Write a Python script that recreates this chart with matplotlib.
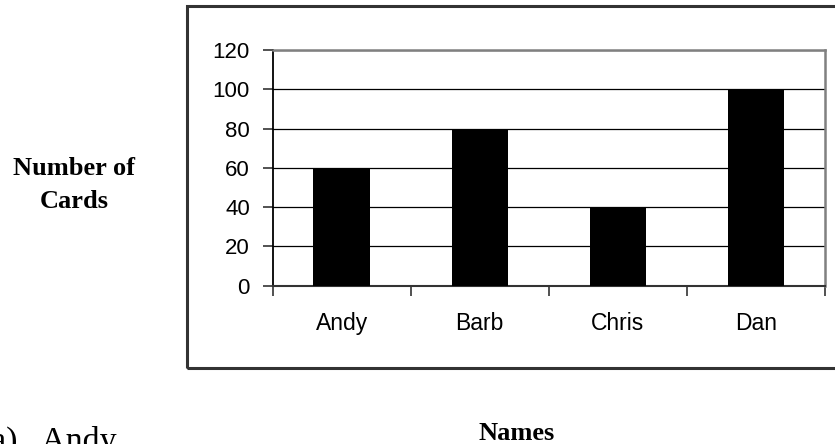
"""Bar chart: number of cards per person (worksheet style, Excel-like)."""

import matplotlib

matplotlib.use("Agg")
import matplotlib.pyplot as plt
from matplotlib.patches import Rectangle
import numpy as np

names = ["Andy", "Barb", "Chris", "Dan"]
cards = [60, 80, 40, 100]
y_ticks = [0, 20, 40, 60, 80, 100, 120]

SANS = "Liberation Sans"
SERIF = "Liberation Serif"

fig = plt.figure(figsize=(8.35, 4.44), dpi=100)
ax = fig.add_axes([0.3266, 0.3565, 0.988 - 0.3266, 0.8874 - 0.3565])

x = np.arange(len(names))
ax.bar(x, cards, width=0.41, color="black", zorder=3)

ax.set_ylim(0, 120)
ax.set_xlim(-0.5, len(names) - 0.5)
ax.set_yticks(y_ticks)
ax.set_yticklabels([str(v) for v in y_ticks], fontfamily=SANS, fontsize=16)
ax.yaxis.grid(True, color="black", lw=0.9, zorder=1)
ax.set_axisbelow(True)

# category labels in the middle, tick marks on the boundaries
ax.set_xticks(x)
ax.set_xticklabels(names, fontfamily=SANS, fontsize=16.5)
ax.set_xticks(np.arange(-0.5, len(names)), minor=True)
ax.tick_params(axis="x", which="major", length=0, pad=19)
ax.tick_params(axis="x", which="minor", length=7, width=1.2, color="#333333")
ax.tick_params(axis="y", length=7.5, width=1.2, pad=9, color="#333333")

ax.spines["left"].set_color("black")
ax.spines["left"].set_linewidth(1.3)
ax.spines["bottom"].set_color("#333333")
ax.spines["bottom"].set_linewidth(1.5)
for side in ("top", "right"):
    ax.spines[side].set_color("#808080")
    ax.spines[side].set_linewidth(1.8)

# outer chart frame (runs off the right edge of the picture)
fig.patches.append(Rectangle((187 / 835, 1 - 368 / 444), 0.9, (368 - 6) / 444,
                             transform=fig.transFigure, fill=False,
                             edgecolor="#333333", lw=2.2))

fig.text(74 / 835, 1 - 185 / 444, "Number of\nCards", ha="center", va="center",
         multialignment="center", fontfamily=SERIF, fontweight="bold",
         fontsize=19, linespacing=1.55)
fig.text(517 / 835, (444 - 440) / 444, "Names", ha="center", va="baseline",
         fontfamily=SERIF, fontweight="bold", fontsize=19)
# answer choice below the chart, cut by the bottom edge as in the source page
fig.text(-9 / 835, (444 - 449.5) / 444, "a)   Andy", ha="left", va="baseline",
         fontfamily=SERIF, fontsize=24.5)

fig.savefig("out.png", dpi=100)
